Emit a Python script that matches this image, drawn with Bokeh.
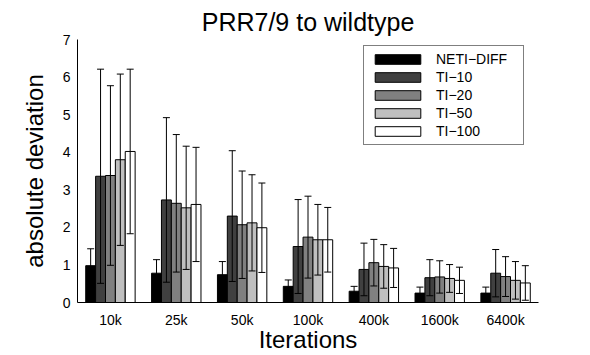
from bokeh.plotting import figure
from bokeh.models import ColumnDataSource, Whisker, TeeHead, FixedTicker, Legend
from bokeh.embed import file_html
from bokeh.resources import INLINE

groups = ["10k", "25k", "50k", "100k", "400k", "1600k", "6400k"]
series = ["NETI\u2212DIFF", "TI\u221210", "TI\u221220", "TI\u221250", "TI\u2212100"]
neti_mean = [0.98, 0.78, 0.74, 0.43, 0.30, 0.25, 0.25]
neti_err = [0.45, 0.36, 0.35, 0.17, 0.13, 0.16, 0.16]
ti10_mean = [3.36, 2.73, 2.30, 1.49, 0.88, 0.66, 0.78]
ti10_err = [2.85, 2.19, 1.74, 1.25, 0.70, 0.48, 0.63]
ti20_mean = [3.38, 2.64, 2.07, 1.74, 1.06, 0.68, 0.69]
ti20_err = [2.39, 1.83, 1.43, 1.09, 0.62, 0.43, 0.53]
ti50_mean = [3.80, 2.52, 2.12, 1.67, 0.96, 0.64, 0.59]
ti50_err = [2.28, 1.64, 1.28, 0.94, 0.58, 0.37, 0.50]
ti100_mean = [4.02, 2.61, 1.99, 1.67, 0.92, 0.59, 0.52]
ti100_err = [2.19, 1.52, 1.19, 0.86, 0.52, 0.35, 0.46]

means = [neti_mean, ti10_mean, ti20_mean, ti50_mean, ti100_mean]
errs = [neti_err, ti10_err, ti20_err, ti50_err, ti100_err]
colors = ["#000000", "#404040", "#808080", "#bfbfbf", "#ffffff"]
offsets = [-0.3, -0.15, 0.0, 0.15, 0.3]
bar_w = 0.15
FONT = "Liberation Sans"

p = figure(width=590, height=355, x_range=(0.5, 7.5), y_range=(0, 7),
           output_backend="svg", toolbar_location=None,
           min_border_left=77, min_border_right=52, min_border_top=39,
           min_border_bottom=53, title="PRR7/9 to wildtype")
p.title.align = "center"
p.title.text_font = FONT
p.title.text_font_size = "25px"
p.title.text_font_style = "normal"
p.title.text_color = "black"
p.title.standoff = 7
p.title.offset = 0

p.grid.visible = False
p.outline_line_color = None
p.background_fill_color = "white"
p.border_fill_color = "white"

renderers = []
idx = list(range(1, len(groups) + 1))
for name, m, e, c, off in zip(series, means, errs, colors, offsets):
    xs = [i + off for i in idx]
    src = ColumnDataSource(dict(x=xs, top=m,
                                upper=[a + b for a, b in zip(m, e)],
                                lower=[a - b for a, b in zip(m, e)]))
    r = p.vbar(x="x", top="top", width=bar_w, bottom=0, source=src,
               fill_color=c, line_color="black", line_width=1)
    renderers.append((name, [r]))
    w = Whisker(base="x", upper="upper", lower="lower", source=src,
                line_color="black", line_width=1, level="annotation",
                upper_head=TeeHead(size=7, line_color="black", line_width=1),
                lower_head=TeeHead(size=7, line_color="black", line_width=1))
    p.add_layout(w)

legend = Legend(items=renderers, location=(286, 157))
legend.border_line_color = "black"
legend.border_line_width = 1.5
legend.background_fill_alpha = 1
legend.label_text_font = FONT
legend.label_text_font_size = "14px"
legend.label_text_color = "black"
legend.glyph_width = 57
legend.glyph_height = 12
legend.label_height = 14
legend.label_width = 82
legend.spacing = 2
legend.padding = 5
legend.margin = 0
legend.label_standoff = 10
p.add_layout(legend)

p.xaxis.ticker = FixedTicker(ticks=idx)
p.xaxis.major_label_overrides = {i: g for i, g in zip(idx, groups)}
p.yaxis.ticker = FixedTicker(ticks=list(range(0, 8)))
for ax in (p.xaxis, p.yaxis):
    ax.major_tick_line_color = None
    ax.minor_tick_line_color = None
    ax.major_tick_out = 0
    ax.major_tick_in = 0
    ax.axis_line_color = "black"
    ax.axis_line_width = 1
    ax.major_label_text_font = FONT
    ax.major_label_text_font_size = "14px"
    ax.major_label_text_color = "black"
    ax.axis_label_text_font = FONT
    ax.axis_label_text_font_style = "normal"
    ax.axis_label_text_color = "black"
    ax.axis_label_text_font_size = "24px"
p.xaxis.axis_label = "Iterations"
p.yaxis.axis_label = "absolute deviation"
p.xaxis.major_label_standoff = 9
p.xaxis.axis_label_standoff = -5
p.yaxis.major_label_standoff = 7
p.yaxis.axis_label_standoff = 12

open("out.html", "w").write(file_html(p, INLINE))
